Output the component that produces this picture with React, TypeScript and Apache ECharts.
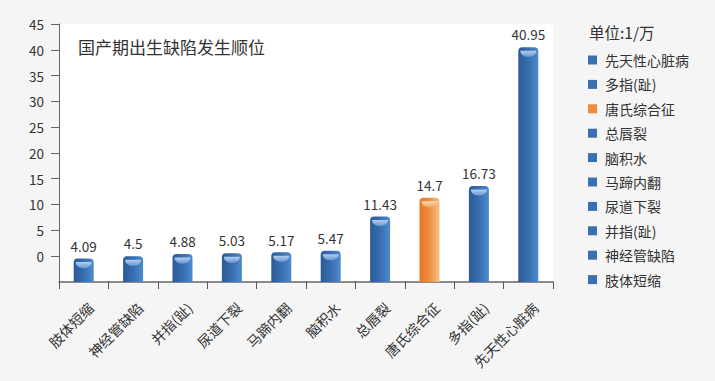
import React, { useEffect, useRef } from "react";
import * as echarts from "echarts";

const categories = ["肢体短缩", "神经管缺陷", "并指(趾)", "尿道下裂", "马蹄内翻", "脑积水", "总唇裂", "唐氏综合征", "多指(趾)", "先天性心脏病"];
const values = [4.09, 4.5, 4.88, 5.03, 5.17, 5.47, 11.43, 14.7, 16.73, 40.95];
const highlighted = ["唐氏综合征"];
const yTicks = [0, 45, 5];
const chartTitle = "国产期出生缺陷发生顺位";
const unitTitle = "单位:1/万";

const FONT = "'Noto Sans CJK SC', 'Noto Sans', sans-serif";

function barGradient(orange: boolean) {
  return new echarts.graphic.LinearGradient(0, 0, 1, 0, orange
    ? [{ offset: 0, color: "#e57520" }, { offset: 0.5, color: "#f09040" }, { offset: 1, color: "#f7c08a" }]
    : [{ offset: 0, color: "#2b5a96" }, { offset: 0.55, color: "#3a70b2" }, { offset: 1, color: "#4e8ccf" }]);
}
function capGradient(orange: boolean) {
  return new echarts.graphic.LinearGradient(0, 0, 0, 1, orange
    ? [{ offset: 0, color: "#fbd7b0" }, { offset: 1, color: "#f4a462" }]
    : [{ offset: 0, color: "#b3cdee" }, { offset: 1, color: "#6a9ad2" }]);
}

export default function App() {
  const ref = useRef<HTMLDivElement>(null);
  useEffect(() => {
    if (!ref.current) return;
    const chart = echarts.init(ref.current, undefined, { renderer: "svg" });
    const isOrange = (c: string) => highlighted.includes(c);
    const legendOrder = [...categories].reverse();
    const option: any = {
      animation: false,
      backgroundColor: "#f5f5f5",
      textStyle: { fontFamily: FONT },
      grid: [
        { left: 59, right: 162, top: 24, bottom: 99, show: true, backgroundColor: "#ffffff", borderWidth: 0 },
        { left: 59, right: 162, top: 24, bottom: 125, show: false },
      ],
      xAxis: [
        {
          type: "category", gridIndex: 0, data: categories,
          axisLine: { show: true, lineStyle: { color: "#666", width: 1.5 } },
          axisTick: { show: true, length: 7, lineStyle: { color: "#555" } },
          axisLabel: {
            interval: 0, rotate: 45, fontSize: 14, color: "#333", fontFamily: FONT,
            margin: 16, align: "right", verticalAlign: "top", padding: [3, 0, 0, 0],
          },
        },
        { type: "category", gridIndex: 1, data: categories, show: false },
      ],
      yAxis: [
        {
          type: "value", gridIndex: 0, min: yTicks[0], max: yTicks[1],
          axisLine: { show: true, lineStyle: { color: "#666", width: 1 } },
          axisTick: { show: false }, axisLabel: { show: false }, splitLine: { show: false },
        },
        {
          type: "value", gridIndex: 1, min: yTicks[0], max: yTicks[1], interval: yTicks[2],
          axisLine: { show: false },
          axisTick: { show: true, length: 8, lineStyle: { color: "#666" } },
          axisLabel: { show: true, margin: 15, fontSize: 13.5, color: "#333", fontFamily: FONT },
          splitLine: { show: false },
        },
      ],
      legend: {
        orient: "vertical", left: 588, top: 53, padding: 0,
        itemWidth: 9, itemHeight: 9, itemGap: 10.4, icon: "rect",
        textStyle: { fontSize: 14, lineHeight: 14, color: "#333", fontFamily: FONT, padding: [0, 0, 0, 3] },
        data: legendOrder,
      },
      graphic: [
        { type: "text", x: 78, y: 46, style: { text: chartTitle, fontSize: 17, fill: "#333", fontFamily: FONT, verticalAlign: "middle" } },
        { type: "text", x: 589, y: 32, style: { text: unitTitle, fontSize: 15.5, fill: "#333", fontFamily: FONT, verticalAlign: "middle" } },
      ],
      series: [
        {
          type: "bar", name: "bars", xAxisIndex: 0, yAxisIndex: 0, barWidth: 20,
          data: values.map((v, i) => ({
            value: v, name: categories[i],
            itemStyle: { color: barGradient(isOrange(categories[i])), borderRadius: [4, 4, 0, 0] },
          })),
          label: { show: true, position: "top", distance: 6, fontSize: 13.5, color: "#333", fontFamily: FONT },
        },
        {
          type: "pictorialBar", name: "caps", xAxisIndex: 0, yAxisIndex: 0,
          symbol: "path://M0,0 L20,0 C20,8 0,8 0,0 Z",
          symbolSize: [16, 6], symbolPosition: "end", symbolOffset: [0, 3.5], z: 5,
          data: values.map((v, i) => ({ value: v, itemStyle: { color: capGradient(isOrange(categories[i])) } })),
        },
        ...legendOrder.map((c) => ({
          type: "line", name: c, xAxisIndex: 0, yAxisIndex: 0, data: [],
          color: isOrange(c) ? "#f08a38" : "#3a70b2",
        })),
      ],
    };
    chart.setOption(option);
    return () => chart.dispose();
  }, []);
  return <div ref={ref} style={{ position: "fixed", left: 0, top: 0, width: 715, height: 381 }} />;
}
